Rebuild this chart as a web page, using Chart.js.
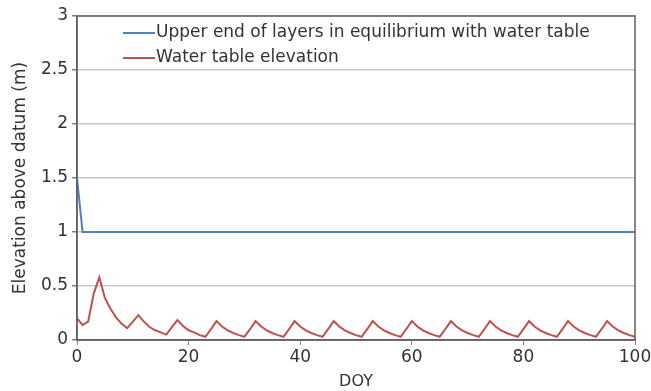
<!DOCTYPE html>
<html lang="en">
<head>
    <meta charset="UTF-8">
    <title>Water table elevation</title>
    <script src="https://cdn.jsdelivr.net/npm/chart.js"></script>
    <style>
        body {
            margin: 0;
            background: #fff;
        }
        .chart-container {
            position: relative;
            width: 651px;
            height: 391px;
        }
    </style>
</head>
<body>
<div class="chart-container">
    <canvas id="chart"></canvas>
</div>

<script>
    // Upper end of layers in equilibrium with water table
    const upperDays = [0, 1, 100];
    const upperValues = [1.5, 1, 1];

    // Water table elevation, one value per day (DOY 0..100)
    const waterDays = [
        0, 1, 2, 3, 4, 5, 6, 7, 8, 9,
        10, 11, 12, 13, 14, 15, 16, 17, 18, 19,
        20, 21, 22, 23, 24, 25, 26, 27, 28, 29,
        30, 31, 32, 33, 34, 35, 36, 37, 38, 39,
        40, 41, 42, 43, 44, 45, 46, 47, 48, 49,
        50, 51, 52, 53, 54, 55, 56, 57, 58, 59,
        60, 61, 62, 63, 64, 65, 66, 67, 68, 69,
        70, 71, 72, 73, 74, 75, 76, 77, 78, 79,
        80, 81, 82, 83, 84, 85, 86, 87, 88, 89,
        90, 91, 92, 93, 94, 95, 96, 97, 98, 99,
        100
    ];
    const waterValues = [
        0.20, 0.14, 0.17, 0.43, 0.58, 0.39, 0.29, 0.21, 0.15, 0.11,
        0.17, 0.23, 0.17, 0.12, 0.09, 0.07, 0.05, 0.12, 0.185, 0.13,
        0.09, 0.07, 0.045, 0.03, 0.10, 0.175, 0.125, 0.09, 0.065, 0.045,
        0.03, 0.10, 0.175, 0.125, 0.09, 0.065, 0.045, 0.03, 0.10, 0.175,
        0.125, 0.09, 0.065, 0.045, 0.03, 0.10, 0.175, 0.125, 0.09, 0.065,
        0.045, 0.03, 0.10, 0.175, 0.125, 0.09, 0.065, 0.045, 0.03, 0.10,
        0.175, 0.125, 0.09, 0.065, 0.045, 0.03, 0.10, 0.175, 0.125, 0.09,
        0.065, 0.045, 0.03, 0.10, 0.175, 0.125, 0.09, 0.065, 0.045, 0.03,
        0.10, 0.175, 0.125, 0.09, 0.065, 0.045, 0.03, 0.10, 0.175, 0.125,
        0.09, 0.065, 0.045, 0.03, 0.10, 0.175, 0.125, 0.09, 0.065, 0.045,
        0.03
    ];

    const xTitle = 'DOY';
    const yTitle = 'Elevation above datum (m)';

    const textColor = '#333333';
    const fontFamily = "'DejaVu Sans', sans-serif";

    function toPoints(xs, ys) {
        return xs.map((x, i) => ({ x: x, y: ys[i] }));
    }

    // legend drawn inside the plot area, left aligned, plus the frame
    const insideLegend = {
        id: 'insideLegend',
        afterDatasetsDraw(chart) {
            const ctx = chart.ctx;
            const area = chart.chartArea;
            ctx.save();
            ctx.strokeStyle = '#606060';
            ctx.lineWidth = 1.5;
            ctx.strokeRect(area.left, area.top, area.right - area.left, area.bottom - area.top);

            ctx.font = '17px ' + fontFamily;
            ctx.textBaseline = 'middle';
            chart.data.datasets.forEach((ds, i) => {
                const y = area.top + 17 + i * 25;
                const x = area.left + 46;
                ctx.strokeStyle = ds.borderColor;
                ctx.lineWidth = 2;
                ctx.beginPath();
                ctx.moveTo(x, y);
                ctx.lineTo(x + 32, y);
                ctx.stroke();
                ctx.fillStyle = textColor;
                ctx.fillText(ds.label, x + 33, y);
            });
            ctx.restore();
        }
    };

    new Chart(document.getElementById('chart'), {
        type: 'line',
        data: {
            datasets: [
                {
                    label: 'Upper end of layers in equilibrium with water table',
                    data: toPoints(upperDays, upperValues),
                    borderColor: '#4f81bd',
                    borderWidth: 2,
                    pointRadius: 0,
                    tension: 0
                },
                {
                    label: 'Water table elevation',
                    data: toPoints(waterDays, waterValues),
                    borderColor: '#c0504d',
                    borderWidth: 2,
                    pointRadius: 0,
                    tension: 0
                }
            ]
        },
        options: {
            responsive: true,
            maintainAspectRatio: false,
            animation: false,
            layout: {
                padding: { left: 10, right: 16, top: 16, bottom: 0 }
            },
            plugins: {
                legend: { display: false },
                tooltip: { enabled: false }
            },
            scales: {
                x: {
                    type: 'linear',
                    min: 0,
                    max: 100,
                    afterFit(axis) {
                        axis.height = 51;
                        axis.paddingRight = 0;
                    },
                    ticks: {
                        stepSize: 20,
                        color: textColor,
                        padding: 2,
                        font: { family: fontFamily, size: 17 }
                    },
                    grid: {
                        drawOnChartArea: false,
                        drawTicks: true,
                        tickLength: 5,
                        tickColor: '#808080'
                    },
                    border: { color: '#606060', width: 1.5 },
                    title: {
                        display: true,
                        text: xTitle,
                        color: textColor,
                        padding: { top: 0, bottom: 0 },
                        font: { family: fontFamily, size: 16 }
                    }
                },
                y: {
                    min: 0,
                    max: 3,
                    afterFit(axis) { axis.width = 67; },
                    ticks: {
                        stepSize: 0.5,
                        color: textColor,
                        padding: 4,
                        font: { family: fontFamily, size: 17 },
                        callback: (value) => String(value)
                    },
                    grid: {
                        color: '#c8c8c8',
                        lineWidth: 1.5,
                        tickLength: 5,
                        tickColor: '#808080'
                    },
                    border: { color: '#606060', width: 1.5 },
                    title: {
                        display: true,
                        text: yTitle,
                        color: textColor,
                        padding: { top: 0, bottom: 0 },
                        font: { family: fontFamily, size: 17 }
                    }
                }
            }
        },
        plugins: [insideLegend]
    });
</script>
</body>
</html>
